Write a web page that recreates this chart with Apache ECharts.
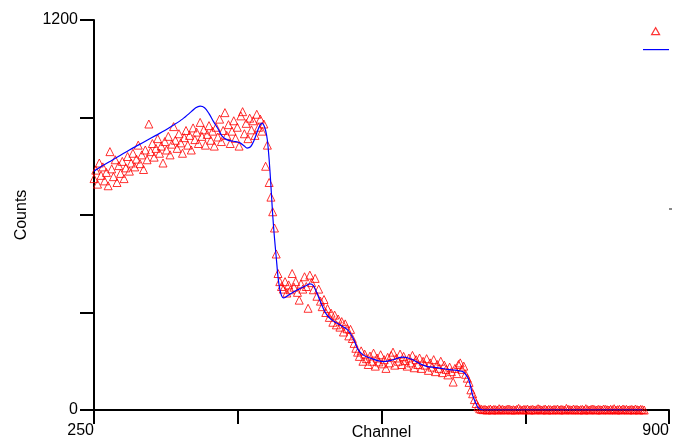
<!DOCTYPE html>
<html>
<head>
<meta charset="utf-8">
<script src="https://cdn.jsdelivr.net/npm/echarts@6/dist/echarts.min.js"></script>
<style>
  html, body { margin: 0; padding: 0; background: #fff; }
  #chart { width: 673px; height: 439px; }
</style>
</head>
<body>
<div id="chart"></div>
<script>
// Measured spectrum: one count value per sampled channel
const channelStart = 250;
const channelStep = 2;
const counts = [
  // 250 - 448
  712, 738, 695, 760, 722, 748, 705, 731, 690, 795,
  742, 718, 770, 700, 752, 728, 765, 712, 745, 780,
  735, 760, 790, 748, 772, 815, 758, 785, 740, 800,
  770, 880, 795, 820, 778, 805, 835, 790, 812, 760,
  826, 800, 842, 785, 818, 872, 830, 805, 850, 822,
  790, 838, 860, 815, 845, 800, 868, 832, 855, 820,
  885, 842, 862, 815, 848, 875, 830, 858, 812, 870,
  840, 895, 826, 860, 915, 845, 878, 820, 858, 890,
  836, 870, 812, 905, 918, 850, 882, 835, 898, 862,
  890, 845, 910, 870, 895, 858, 880, 750, 815, 700,
  // 450 - 466
  655, 610, 560, 480, 420, 395, 380, 372, 395,
  // 468 - 500
  360, 385, 370, 420, 378, 395, 362, 338, 388, 372,
  410, 380, 313, 415, 392, 370, 405,
  // 502 - 546
  350, 372, 335, 318, 340, 300, 312, 285, 298, 270,
  292, 262, 280, 255, 272, 240, 265, 250, 228, 248,
  220, 205, 190,
  // 548 - 672
  178, 165, 182, 150, 172, 158, 140, 166, 150, 175,
  135, 160, 148, 170, 142, 155, 128, 162, 145, 168,
  178, 138, 160, 150, 172, 140, 165, 152, 135, 160,
  145, 168, 130, 155, 140, 160, 128, 150, 138, 158,
  122, 145, 132, 155, 118, 140, 128, 150, 115, 138,
  125, 108, 132, 118, 86, 128, 112, 140, 145, 125,
  135, 110, 98,
  // 674 - 690
  85, 62, 50, 32, 20, 10, 4, 2, 1,
  // 692 - 872
  2, 0, 1, 3, 0, 2, 1, 0, 4, 1,
  2, 0, 1, 3, 2, 0, 1, 0, 2, 5,
  1, 0, 2, 1, 3, 0, 1, 2, 0, 1,
  4, 2, 0, 1, 3, 0, 2, 1, 0, 2,
  1, 3, 0, 2, 1, 0, 5, 2, 1, 0,
  3, 1, 2, 0, 1, 2, 0, 4, 1, 0,
  2, 3, 1, 0, 2, 1, 0, 3, 2, 1,
  0, 2, 1, 4, 0, 1, 2, 0, 3, 1,
  2, 0, 1, 2, 0, 3, 1, 0, 2, 1,
  0
];

// Fitted response curve: [channel, counts]
const fitChannels = [
  250, 260, 270, 280, 290, 300, 310, 320, 330, 340,
  350, 360, 365, 370, 375, 380, 385, 390, 395, 400,
  405, 410, 415, 420, 423, 427, 431, 435, 438, 440,
  442, 444, 446, 448, 450, 452, 454, 456, 458, 460,
  462, 464, 466, 470, 475, 480, 485, 490, 494, 498,
  502, 506, 510, 514, 520, 528, 537, 543, 548, 553,
  558, 565, 572, 577, 583, 590, 596, 600, 605, 611,
  618, 626, 635, 641, 650, 656, 662, 667, 670, 673,
  676, 678, 681, 684, 687, 690, 870
];
const fitCounts = [
  735, 752, 768, 784, 800, 815, 830, 845, 860, 877,
  895, 918, 930, 935, 930, 912, 888, 866, 842, 832,
  828, 826, 822, 812, 806, 810, 830, 860, 878, 883,
  876, 860, 830, 770, 690, 600, 530, 470, 410, 372,
  352, 345, 346, 354, 362, 370, 376, 383, 388, 383,
  360, 333, 308, 290, 275, 262, 246, 221, 188, 172,
  164, 157, 151, 149, 151, 156, 162, 163, 160, 154,
  143, 134, 131, 129, 125, 123, 121, 118, 110, 98,
  70, 45, 25, 8, 2, 0, 0
];

// Axis ticks and labels
const xTicks = [250, 412.5, 575, 737.5, 900];
const xLabels = [250, 900];
const yTicks = [0, 300, 600, 900, 1200];
const yLabels = [0, 1200];

const measured = counts.map((c, i) => [channelStart + i * channelStep, c]);
const fitted = fitChannels.map((ch, i) => [ch, fitCounts[i]]);

const chart = echarts.init(document.getElementById('chart'), null, { renderer: 'canvas' });
const font = '"Liberation Sans", Arial, sans-serif';
const red = '#ff0000';
const blue = '#0000ff';

chart.setOption({
  animation: false,
  backgroundColor: '#ffffff',
  grid: {
    left: 94, right: 4, top: 20, bottom: 29,
    containLabel: false,
    outerBoundsMode: 'none'
  },
  legend: [
    {
      left: 651, top: 27, padding: 0,
      itemWidth: 8, itemHeight: 7,
      formatter: () => '',
      data: [{
        name: 'Measured',
        icon: 'triangle',
        itemStyle: { color: 'rgba(255,255,255,0)', borderColor: red, borderWidth: 1.2 }
      }]
    },
    {
      left: 643, top: 49, padding: 0,
      itemWidth: 26, itemHeight: 1.2,
      formatter: () => '',
      data: [{
        name: 'Fit',
        icon: 'rect',
        itemStyle: { color: blue, borderWidth: 0 }
      }]
    }
  ],
  xAxis: {
    type: 'value',
    min: 250,
    max: 900,
    name: 'Channel',
    nameLocation: 'middle',
    nameGap: 15,
    nameMoveOverlap: false,
    nameTextStyle: { fontFamily: font, fontSize: 16, color: '#000', verticalAlign: 'top' },
    splitLine: { show: false },
    axisLine: { show: true, onZero: false, lineStyle: { color: '#000', width: 2 } },
    axisTick: {
      show: true, length: 14, inside: false,
      customValues: xTicks,
      lineStyle: { color: '#000', width: 2 }
    },
    axisLabel: {
      show: true,
      customValues: xLabels,
      formatter: v => String(v),
      align: 'right',
      margin: 13,
      fontFamily: font, fontSize: 16, color: '#000'
    }
  },
  yAxis: {
    type: 'value',
    min: 0,
    max: 1200,
    name: 'Counts',
    nameLocation: 'middle',
    nameGap: 64,
    nameMoveOverlap: false,
    nameTextStyle: { fontFamily: font, fontSize: 16, color: '#000' },
    splitLine: { show: false },
    axisLine: { show: true, onZero: false, lineStyle: { color: '#000', width: 2 } },
    axisTick: {
      show: true, length: 14, inside: false,
      customValues: yTicks,
      lineStyle: { color: '#000', width: 2 }
    },
    axisLabel: {
      show: true,
      customValues: yLabels,
      formatter: v => String(v),
      margin: 16,
      fontFamily: font, fontSize: 16, color: '#000'
    }
  },
  series: [
    {
      name: 'Measured',
      type: 'scatter',
      symbol: 'triangle',
      symbolSize: 8,
      data: measured,
      z: 2,
      itemStyle: { color: 'rgba(255,255,255,0)', borderColor: red, borderWidth: 1 }
    },
    {
      name: 'Fit',
      type: 'line',
      symbol: 'none',
      data: fitted,
      smooth: 0.3,
      z: 3,
      lineStyle: { color: blue, width: 1.2 },
      itemStyle: { color: blue }
    }
  ],
  graphic: [
    { type: 'rect', shape: { x: 669, y: 208, width: 3, height: 2 }, style: { fill: '#888' } }
  ]
});
</script>
</body>
</html>
